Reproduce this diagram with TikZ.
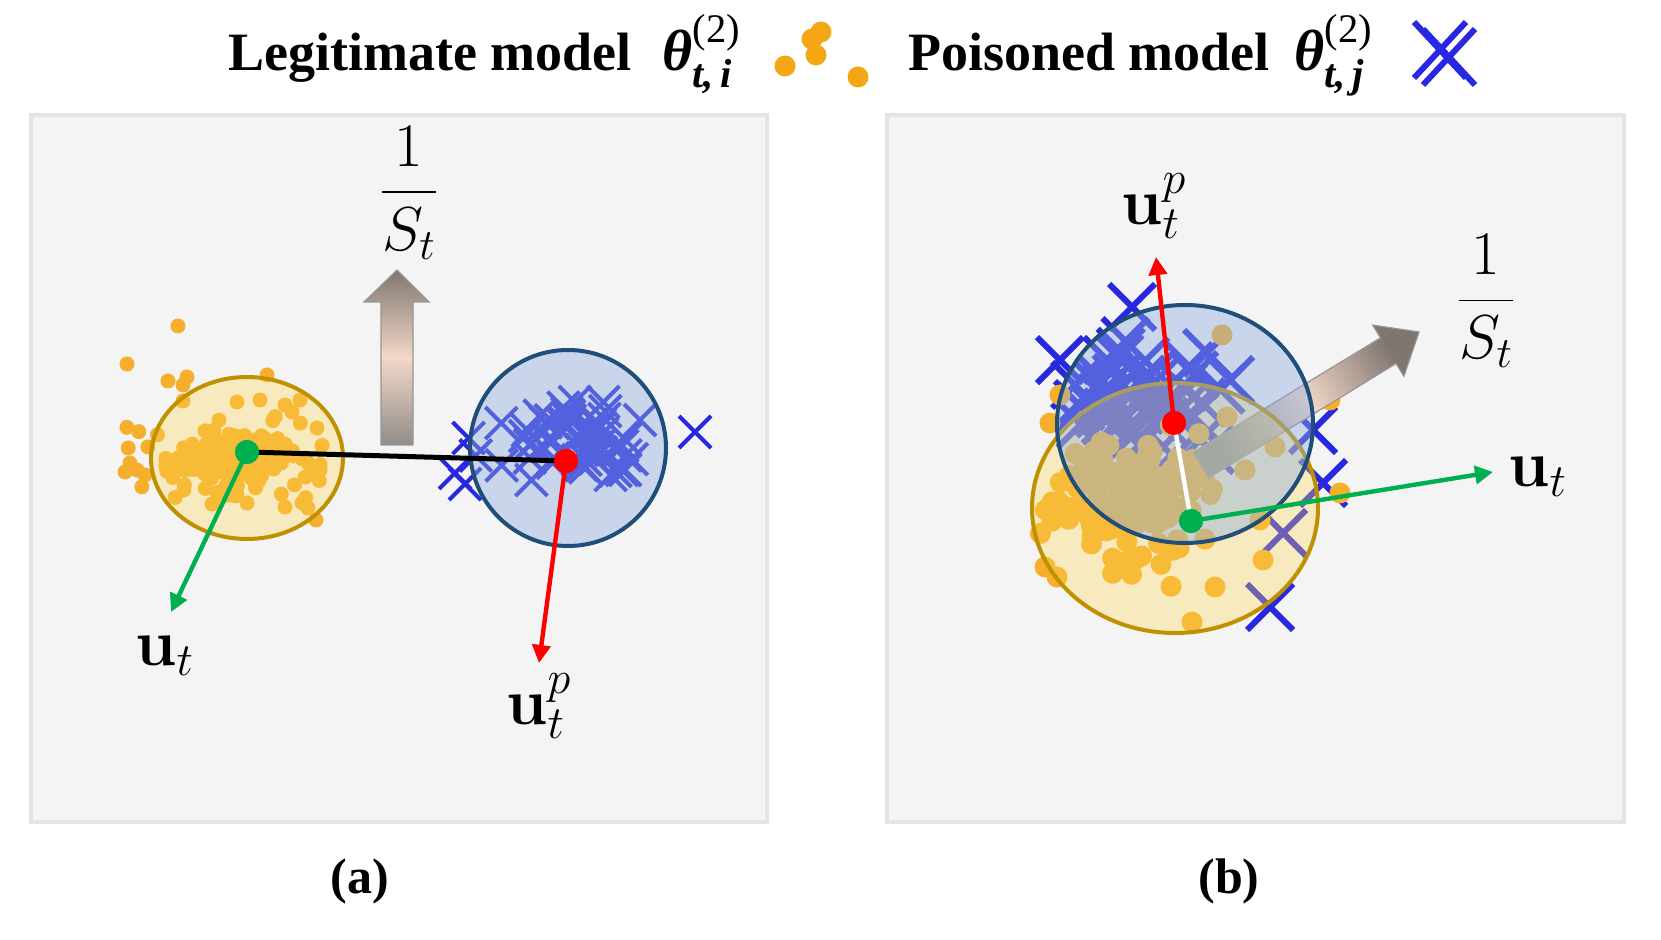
\RequirePackage{fix-cm}
\documentclass[tikz,border=0pt]{standalone}
\usepackage{amsmath}
\usepackage[no-math]{fontspec}
\newfontfamily\hdrfont{Liberation Serif}
\usetikzlibrary{arrows.meta,shadings}
\definecolor{panelbg}{RGB}{244,244,244}
\definecolor{panelbd}{RGB}{228,228,228}
\definecolor{dotc}{RGB}{246,174,45}
\definecolor{legdot}{RGB}{245,166,20}
\definecolor{xblue}{RGB}{40,40,225}
\definecolor{bfill}{RGB}{144,174,221}
\definecolor{yfill}{RGB}{255,216,81}
\definecolor{brim}{RGB}{31,78,121}
\definecolor{yrim}{RGB}{191,144,0}
\definecolor{vgreen}{RGB}{0,176,80}
\definecolor{arrtop}{RGB}{128,118,112}
\definecolor{arrmid}{RGB}{242,216,200}
\definecolor{arrbot}{RGB}{145,140,136}
\definecolor{arrline}{RGB}{150,150,150}
\newcommand{\bthe}[1]{\text{\hdrfont\bfseries\itshape θ}^{\text{\hdrfont (2)}}_{\text{\hdrfont\bfseries\itshape #1}}}
\tikzset{
  panel/.style={fill=panelbg, draw=panelbd, line width=2pt},
  xa/.style={draw=xblue, line width=2pt},
  xb/.style={draw=xblue, line width=3pt},
  bluefill/.style={fill=bfill, fill opacity=0.43},
  yelfill/.style={fill=yfill, fill opacity=0.32},
  bluerim/.style={draw=brim, line width=2pt},
  yelrim/.style={draw=yrim, line width=2pt},
  vec/.style={line width=2.2pt, -{Triangle[length=9pt,width=9pt]}},
  ctr/.style={circle, inner sep=0pt, minimum size=12pt},
  lbl/.style={font=\fontsize{33}{38}\selectfont, inner sep=0pt},
  frac/.style={font=\fontsize{31}{36}\selectfont, inner sep=0pt},
  hdr/.style={font=\hdrfont\bfseries\fontsize{27}{32}\selectfont, inner sep=0pt},
  subcap/.style={font=\hdrfont\bfseries\fontsize{25}{30}\selectfont, inner sep=0pt},
  blockarrow/.style={draw=arrline, line width=0.6pt, top color=arrtop, bottom color=arrbot, middle color=arrmid}
}
\begin{document}
\begin{tikzpicture}[x=0.5pt,y=-0.5pt]
\useasboundingbox (0,0) rectangle (1661,940);
\fill[white] (0,0) rectangle (1661,940);

% ---------- header ----------
\node[hdr, anchor=base west] (legit) at (228,71) {Legitimate model};
\node[anchor=base west, inner sep=0pt, font=\fontsize{29}{34}\selectfont] (thi) at (662,71) {$\bthe{t,\,i}$};
\foreach \p in {(812,39),(821,32),(785,66),(816,55),(858,77)}
  \fill[legdot] \p circle[radius=10.5];
\node[hdr, anchor=base west] (pois) at (908,71) {Poisoned model};
\node[anchor=base west, inner sep=0pt, font=\fontsize{29}{34}\selectfont] (thj) at (1294,71) {$\bthe{t,\,j}$};
\foreach \c in {(1440,50),(1449,57)}
  \draw[draw=xblue, line width=3pt] \c +(-26,-28) -- +(26,28) +(-26,28) -- +(26,-28);

% ---------- panels ----------
\draw[panel] (31,115) rectangle (767,822);
\draw[panel] (887,115) rectangle (1624,822);

% ---------- panel (a) ----------
\pgfmathsetseed{11}
\foreach \i in {1,...,55}{
  \pgfmathsetmacro\px{560+36*(rand+rand+rand)}
  \pgfmathsetmacro\py{440+20*(rand+rand+rand)}
  \draw[xa] (\px,\py) +(-16,-16) -- +(16,16) +(-16,16) -- +(16,-16);
}
\foreach \c in {(695,432),(455,473),(465,484),(640,420),(625,470)}
  \draw[xa] \c +(-16,-16) -- +(16,16) +(-16,16) -- +(16,-16);
\pgfmathsetseed{5}
\foreach \i in {1,...,170}{
  \pgfmathsetmacro\px{232+40*(rand+rand+rand)}
  \pgfmathsetmacro\py{458+18*(rand+rand+rand)}
  \fill[dotc] (\px,\py) circle[radius=7.5];
}
\foreach \p in {(178,326),(127,364),(168,381),(187,377),(183,385),(183,401),(267,375),(130,463),(125,472),(145,475),(137,470),(316,520),(308,508),(285,507),(320,470),(317,428),(300,400),(237,402),(260,400),(212,504),(247,503),(285,405),(292,412)}
  \fill[dotc] \p circle[radius=7.5];

\shade[blockarrow] (381,445) -- (381,302) -- (364,302) -- (397,270) -- (429,302) -- (413,302) -- (413,445) -- cycle;

\fill[yelfill] (247,458) ellipse[x radius=96, y radius=81];
\draw[yelrim] (247,458) ellipse[x radius=96, y radius=81];
\fill[bluefill] (568,448) circle[radius=98];
\draw[bluerim] (568,448) circle[radius=98];

\node[ctr, fill=vgreen] (ga) at (247,452) {};
\node[ctr, fill=red] (ra) at (566,461) {};
\draw[line width=2.5pt] (ga.center) -- (ra.center);
\coordinate (uta) at (171,612);
\coordinate (upa) at (539,663);
\draw[vec, vgreen] (ga.center) -- (uta);
\draw[vec, red] (ra.center) -- (upa);
\node[ctr, fill=vgreen] at (ga) {};
\node[ctr, fill=red] at (ra) {};

\node[lbl, anchor=base west] (lut) at (135,666) {$\mathbf{u}_t$};
\node[lbl, anchor=base west] (lup) at (506,725) {$\mathbf{u}_t^p$};
\node[frac, anchor=base] (fa) at (409,208) {$\displaystyle\frac{1}{S_t}$};

\node[subcap, anchor=base] (capa) at (360,893) {(a)};

% ---------- panel (b) ----------
\pgfmathsetseed{23}
\foreach \i in {1,...,45}{
  \pgfmathsetmacro\px{1150+36*(rand+rand+rand)}
  \pgfmathsetmacro\py{400+30*(rand+rand+rand)}
  \draw[xb] (\px,\py) +(-23,-23) -- +(23,23) +(-23,23) -- +(23,-23);
}
\foreach \c in {(1132,307),(1107,360),(1075,385),(1207,353),(1313,430),(1323,483),(1283,533),(1270,607),(1230,380),(1210,450)}
  \draw[xb] \c +(-23,-23) -- +(23,23) +(-23,23) -- +(23,-23);
\pgfmathsetseed{31}
\foreach \i in {1,...,180}{
  \pgfmathsetmacro\px{1130+38*(rand+rand+rand)}
  \pgfmathsetmacro\py{500+30*(rand+rand+rand)}
  \fill[dotc] (\px,\py) circle[radius=10.5];
}
\foreach \p in {(1222,335),(1227,417),(1340,493),(1330,400),(1215,587),(1192,622),(1263,560),(1050,423),(1045,567),(1057,577),(1275,447),(1060,395),(1245,470),(1260,520)}
  \fill[dotc] \p circle[radius=10.5];

\shade[blockarrow, shading angle=-59] (1208.8,477.8) -- (1396.1,363.5) -- (1403.9,376.3) -- (1419,332) -- (1372.7,325.1) -- (1380.5,337.9) -- (1193.2,452.2) -- cycle;

\fill[yelfill] (1175,508) ellipse[x radius=143, y radius=125];
\draw[yelrim] (1175,508) ellipse[x radius=143, y radius=125];
\fill[bluefill] (1185,424) ellipse[x radius=128, y radius=119];
\draw[bluerim] (1185,424) ellipse[x radius=128, y radius=119];

\node[ctr, fill=red] (rb) at (1174,423) {};
\node[ctr, fill=vgreen] (gb) at (1191,521) {};
\draw[white, line width=2.2pt] (rb.center) -- (gb.center);
\coordinate (upb) at (1156,257);
\coordinate (utb) at (1493,472);
\draw[vec, red] (rb.center) -- (upb);
\draw[vec, vgreen] (gb.center) -- (utb);
\node[ctr, fill=red] at (rb) {};
\node[ctr, fill=vgreen] at (gb) {};

\node[lbl, anchor=base west] (lupb) at (1121,225) {$\mathbf{u}_t^p$};
\node[lbl, anchor=base west] (lutb) at (1508,487) {$\mathbf{u}_t$};
\node[frac, anchor=base] (fb) at (1486,316) {$\displaystyle\frac{1}{S_t}$};

\node[subcap, anchor=base] (capb) at (1229,893) {(b)};
\end{tikzpicture}
\end{document}
